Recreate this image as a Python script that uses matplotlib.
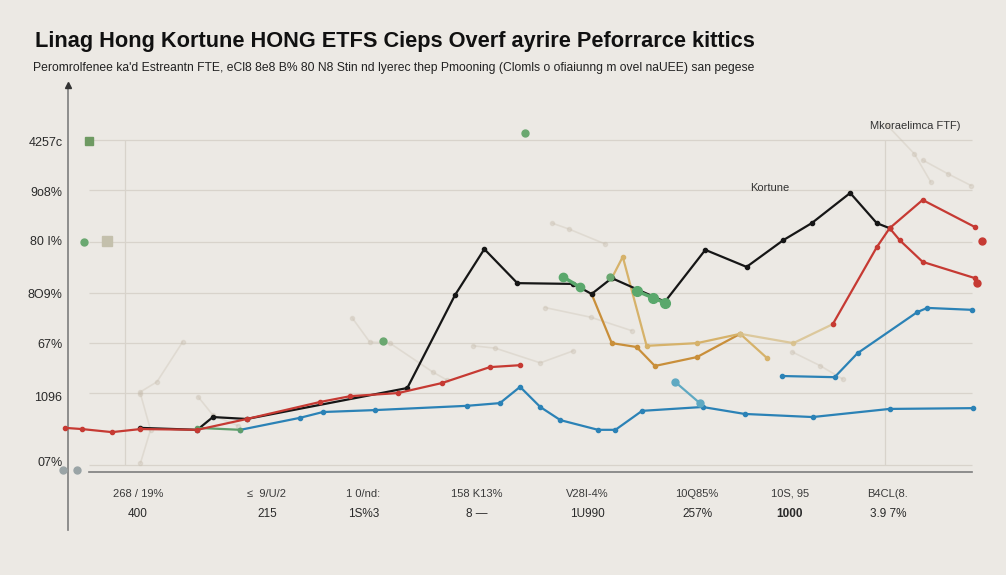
import matplotlib
matplotlib.use('Agg')
import matplotlib.pyplot as plt

# chart data (x: position along the period axis 0-100, y: performance scale 0-100)
black_x = [7.9, 14.1, 15.8, 19.5, 37.0, 42.2, 45.4, 49.0, 55.1, 57.1, 59.3, 65.1, 69.5, 74.0, 78.0, 81.1, 85.3, 88.2, 89.6]
black_y = [11.4, 10.9, 14.2, 13.7, 21.7, 45.7, 57.6, 48.8, 48.6, 46.0, 50.1, 44.0, 57.4, 53.0, 59.9, 64.3, 72.1, 64.3, 63.0]

red_a_x = [-0.3, 1.5, 4.8, 7.9, 14.1, 19.5, 27.5, 30.8, 36.0, 40.8, 46.0, 49.3]
red_a_y = [11.4, 11.1, 10.3, 11.1, 10.9, 13.7, 18.1, 19.6, 20.4, 23.0, 27.1, 27.6]
red_b_x = [83.4, 88.2, 89.6, 93.2, 98.9]
red_b_y = [38.2, 58.1, 63.0, 70.3, 63.3]
red_c_x = [89.6, 90.7, 93.2, 98.9]
red_c_y = [63.0, 59.9, 54.3, 50.1]
red_dot_x = [99.7, 99.1]
red_dot_y = [59.7, 48.8]

blue_x = [18.8, 25.3, 27.8, 33.5, 43.5, 47.1, 49.3, 51.5, 53.7, 57.8, 59.7, 62.6, 69.2, 73.8, 81.2, 89.6, 98.7]
blue_y = [10.9, 14.0, 15.5, 16.0, 17.1, 17.8, 22.0, 16.8, 13.4, 10.9, 10.9, 15.8, 16.8, 15.0, 14.2, 16.3, 16.5]
blue_up_x = [77.9, 83.6, 86.1, 92.6, 93.7, 98.6]
blue_up_y = [24.8, 24.5, 30.7, 41.3, 42.4, 41.9]
teal_x = [66.2, 68.9]
teal_y = [23.3, 17.8]

gold_x = [57.1, 59.3, 62.0, 64.0, 68.6, 73.3]
gold_y = [46.0, 33.3, 32.3, 27.4, 29.7, 35.7]
tan_x = [59.3, 60.5, 63.1, 68.6, 73.3, 76.2]
tan_y = [50.1, 55.6, 32.6, 33.3, 35.7, 29.5]
tan_faint_x = [73.3, 79.1, 83.4]
tan_faint_y = [35.7, 33.3, 38.2]

green_a_x = [14.1, 18.8]
green_a_y = [11.4, 10.9]
green_b_x = [54.0, 55.8]
green_b_y = [50.4, 47.8]
green_c_x = [62.0, 63.8, 65.1]
green_c_y = [46.8, 45.0, 43.7]
green_dot_x = [49.8, 1.7, 34.4, 59.1]
green_dot_y = [87.6, 59.4, 33.9, 50.4]

# faint background strokes
ghost_lines = [
    ([12.5, 9.7, 7.9], [33.6, 23.3, 20.7]),
    ([7.9, 9.0, 7.9], [20.2, 10.9, 2.3]),
    ([14.2, 15.8, 18.5], [19.4, 14.7, 12.0]),
    ([31.0, 32.9, 35.1, 39.8, 41.3], [39.8, 33.6, 33.3, 25.8, 23.8]),
    ([44.2, 46.6, 51.5, 55.1], [32.6, 32.0, 28.2, 31.3]),
    ([52.8, 54.6, 58.6], [64.3, 62.8, 58.9]),
    ([89.3, 92.3, 94.1], [89.7, 82.2, 74.9]),
    ([93.2, 96.0, 98.5], [80.6, 77.0, 74.0]),
    ([52.0, 57.0, 61.5], [42.5, 40.0, 36.5]),
    ([79.0, 82.0, 84.5], [31.0, 27.5, 24.0]),
]

grid_y = [85.8, 72.9, 59.4, 46.3, 33.3, 20.4, 1.8]
grid_vx = [6.2, 89.1]

ytick_pos = [85.5, 72.6, 59.7, 46.0, 33.1, 19.6, 2.6]
ytick_labels = ['4257c', '9o8%', '80 I%', '8O9%', '67%', '1096', '07%']

xtick_pos = [7.6, 21.7, 32.2, 44.6, 56.6, 68.6, 78.7, 89.4]
xtick_row1 = ['268 / 19%', '\u2264  9/U/2', '1 0/nd:', '158 K13%', 'V28I-4%', '10Q85%', '10S, 95', 'B4CL(8.']
xtick_row2 = ['400', '215', '1S%3', '8 \u2014', '1U990', '257%', '1000', '3.9 7%']

title = 'Linag Hong Kortune HONG ETFS Cieps Overf ayrire Peforrarce kittics'
subtitle = ("Peromrolfenee ka'd Estreantn FTE, eCl8 8e8 B% 80 N8 Stin nd lyerec thep "
            "Pmooning (Clomls o ofiaiunng m ovel naUEE) san pegese")

W, H = 1006, 575
BG = '#ece9e4'
plt.rcParams['font.family'] = ['Liberation Sans', 'DejaVu Sans']

fig = plt.figure(figsize=(W / 100, H / 100), dpi=100, facecolor=BG)
ax = fig.add_axes([68 / W, 1 - 472 / H, 917 / W, 387 / H])
ax.set_xlim(0, 100)
ax.set_ylim(0, 100)
ax.set_facecolor('none')

for s in ['top', 'right', 'left']:
    ax.spines[s].set_visible(False)
ax.spines['bottom'].set_bounds(2.3, 98.6)
ax.spines['bottom'].set_color('#7d7d7d')
ax.spines['bottom'].set_linewidth(1.2)

# grid
ax.hlines(grid_y, 2.3, 98.6, color='#d8d3cb', lw=0.9, zorder=1)
ax.vlines(grid_vx, 1.8, 85.8, color='#d8d3cb', lw=0.9, zorder=1)

for gx, gy in ghost_lines:
    ax.plot(gx, gy, color='#c9bfb0', lw=1.2, alpha=0.35, marker='o', ms=3,
            solid_capstyle='round', zorder=1, clip_on=False)

# vertical axis with arrow, drawn past the axes box
ax.plot([0, 0], [-0.15, 1.0], color='#7d7d7d', lw=1.2, transform=ax.transAxes, clip_on=False)
ax.plot([0], [1.0], marker='^', ms=4, color='#333333', transform=ax.transAxes, clip_on=False)

def series(x, y, color, lw=1.6, ms=3, alpha=1.0, z=3):
    ax.plot(x, y, color=color, lw=lw, marker='o', ms=ms, alpha=alpha,
            solid_joinstyle='round', zorder=z, clip_on=False)

series(black_x, black_y, '#161616', z=4)
series(red_a_x, red_a_y, '#c63a33', z=5)
series(red_b_x, red_b_y, '#c63a33', z=5)
series(red_c_x, red_c_y, '#c63a33', z=5)
ax.plot(red_dot_x, red_dot_y, 'o', color='#c63a33', ms=5, zorder=5, clip_on=False)
series(blue_x, blue_y, '#2b82b6')
series(blue_up_x, blue_up_y, '#2b82b6')
series(teal_x, teal_y, '#5fa9c2', ms=5)
series(gold_x, gold_y, '#c98f3a')
series(tan_x, tan_y, '#d6b26a')
series(tan_faint_x, tan_faint_y, '#d8c08a', alpha=0.8)
series(green_a_x, green_a_y, '#5e9e6a', z=4)
series(green_b_x, green_b_y, '#5aa86c', lw=2.5, ms=6, z=5)
series(green_c_x, green_c_y, '#5aa86c', lw=2.5, ms=7, z=5)
ax.plot(green_dot_x, green_dot_y, 'o', color='#6aa870', ms=5, zorder=5, clip_on=False)
ax.plot([2.3], [85.5], 's', color='#6e9a62', ms=6, zorder=5, clip_on=False)
ax.plot([4.3], [59.7], 's', color='#c4c0ac', ms=7, zorder=5, clip_on=False)
ax.plot([-0.5, 1.0], [0.5, 0.5], 'o', color='#9aa4a6', ms=5, zorder=5, clip_on=False)

# ticks
ax.set_yticks(ytick_pos, ytick_labels)
ax.tick_params(axis='y', length=0, pad=4, labelsize=9, labelcolor='#2a2a2a')
ax.set_xticks(xtick_pos, xtick_row1)
ax.tick_params(axis='x', length=0, pad=12, labelsize=8, labelcolor='#3a3a3a')
for xp, lab in zip(xtick_pos, xtick_row2):
    ax.text(xp, -0.109, lab, transform=ax.get_xaxis_transform(), ha='center', va='center',
            fontsize=8.5, color='#2a2a2a', fontweight='bold' if lab == '1000' else 'normal')

# annotations
ax.annotate('Kortune', (76.5, 73.4), ha='center', va='center', fontsize=8, color='#333333')
ax.annotate('Mkoraelimca FTF)', (92.4, 89.4), ha='center', va='center', fontsize=8, color='#333333')

# title and subtitle, fitted to the reference widths
t1 = fig.text(35 / W, 1 - 42 / H, title, ha='left', va='center', fontsize=18,
              fontweight='bold', color='#111111')
t2 = fig.text(33 / W, 1 - 68 / H, subtitle, ha='left', va='center', fontsize=9,
              color='#222222')
fig.canvas.draw()
r = fig.canvas.get_renderer()
for t, target in [(t1, 720), (t2, 724)]:
    w = t.get_window_extent(r).width
    t.set_fontsize(t.get_fontsize() * target / w)

fig.savefig('out.png', dpi=100, facecolor=BG)
